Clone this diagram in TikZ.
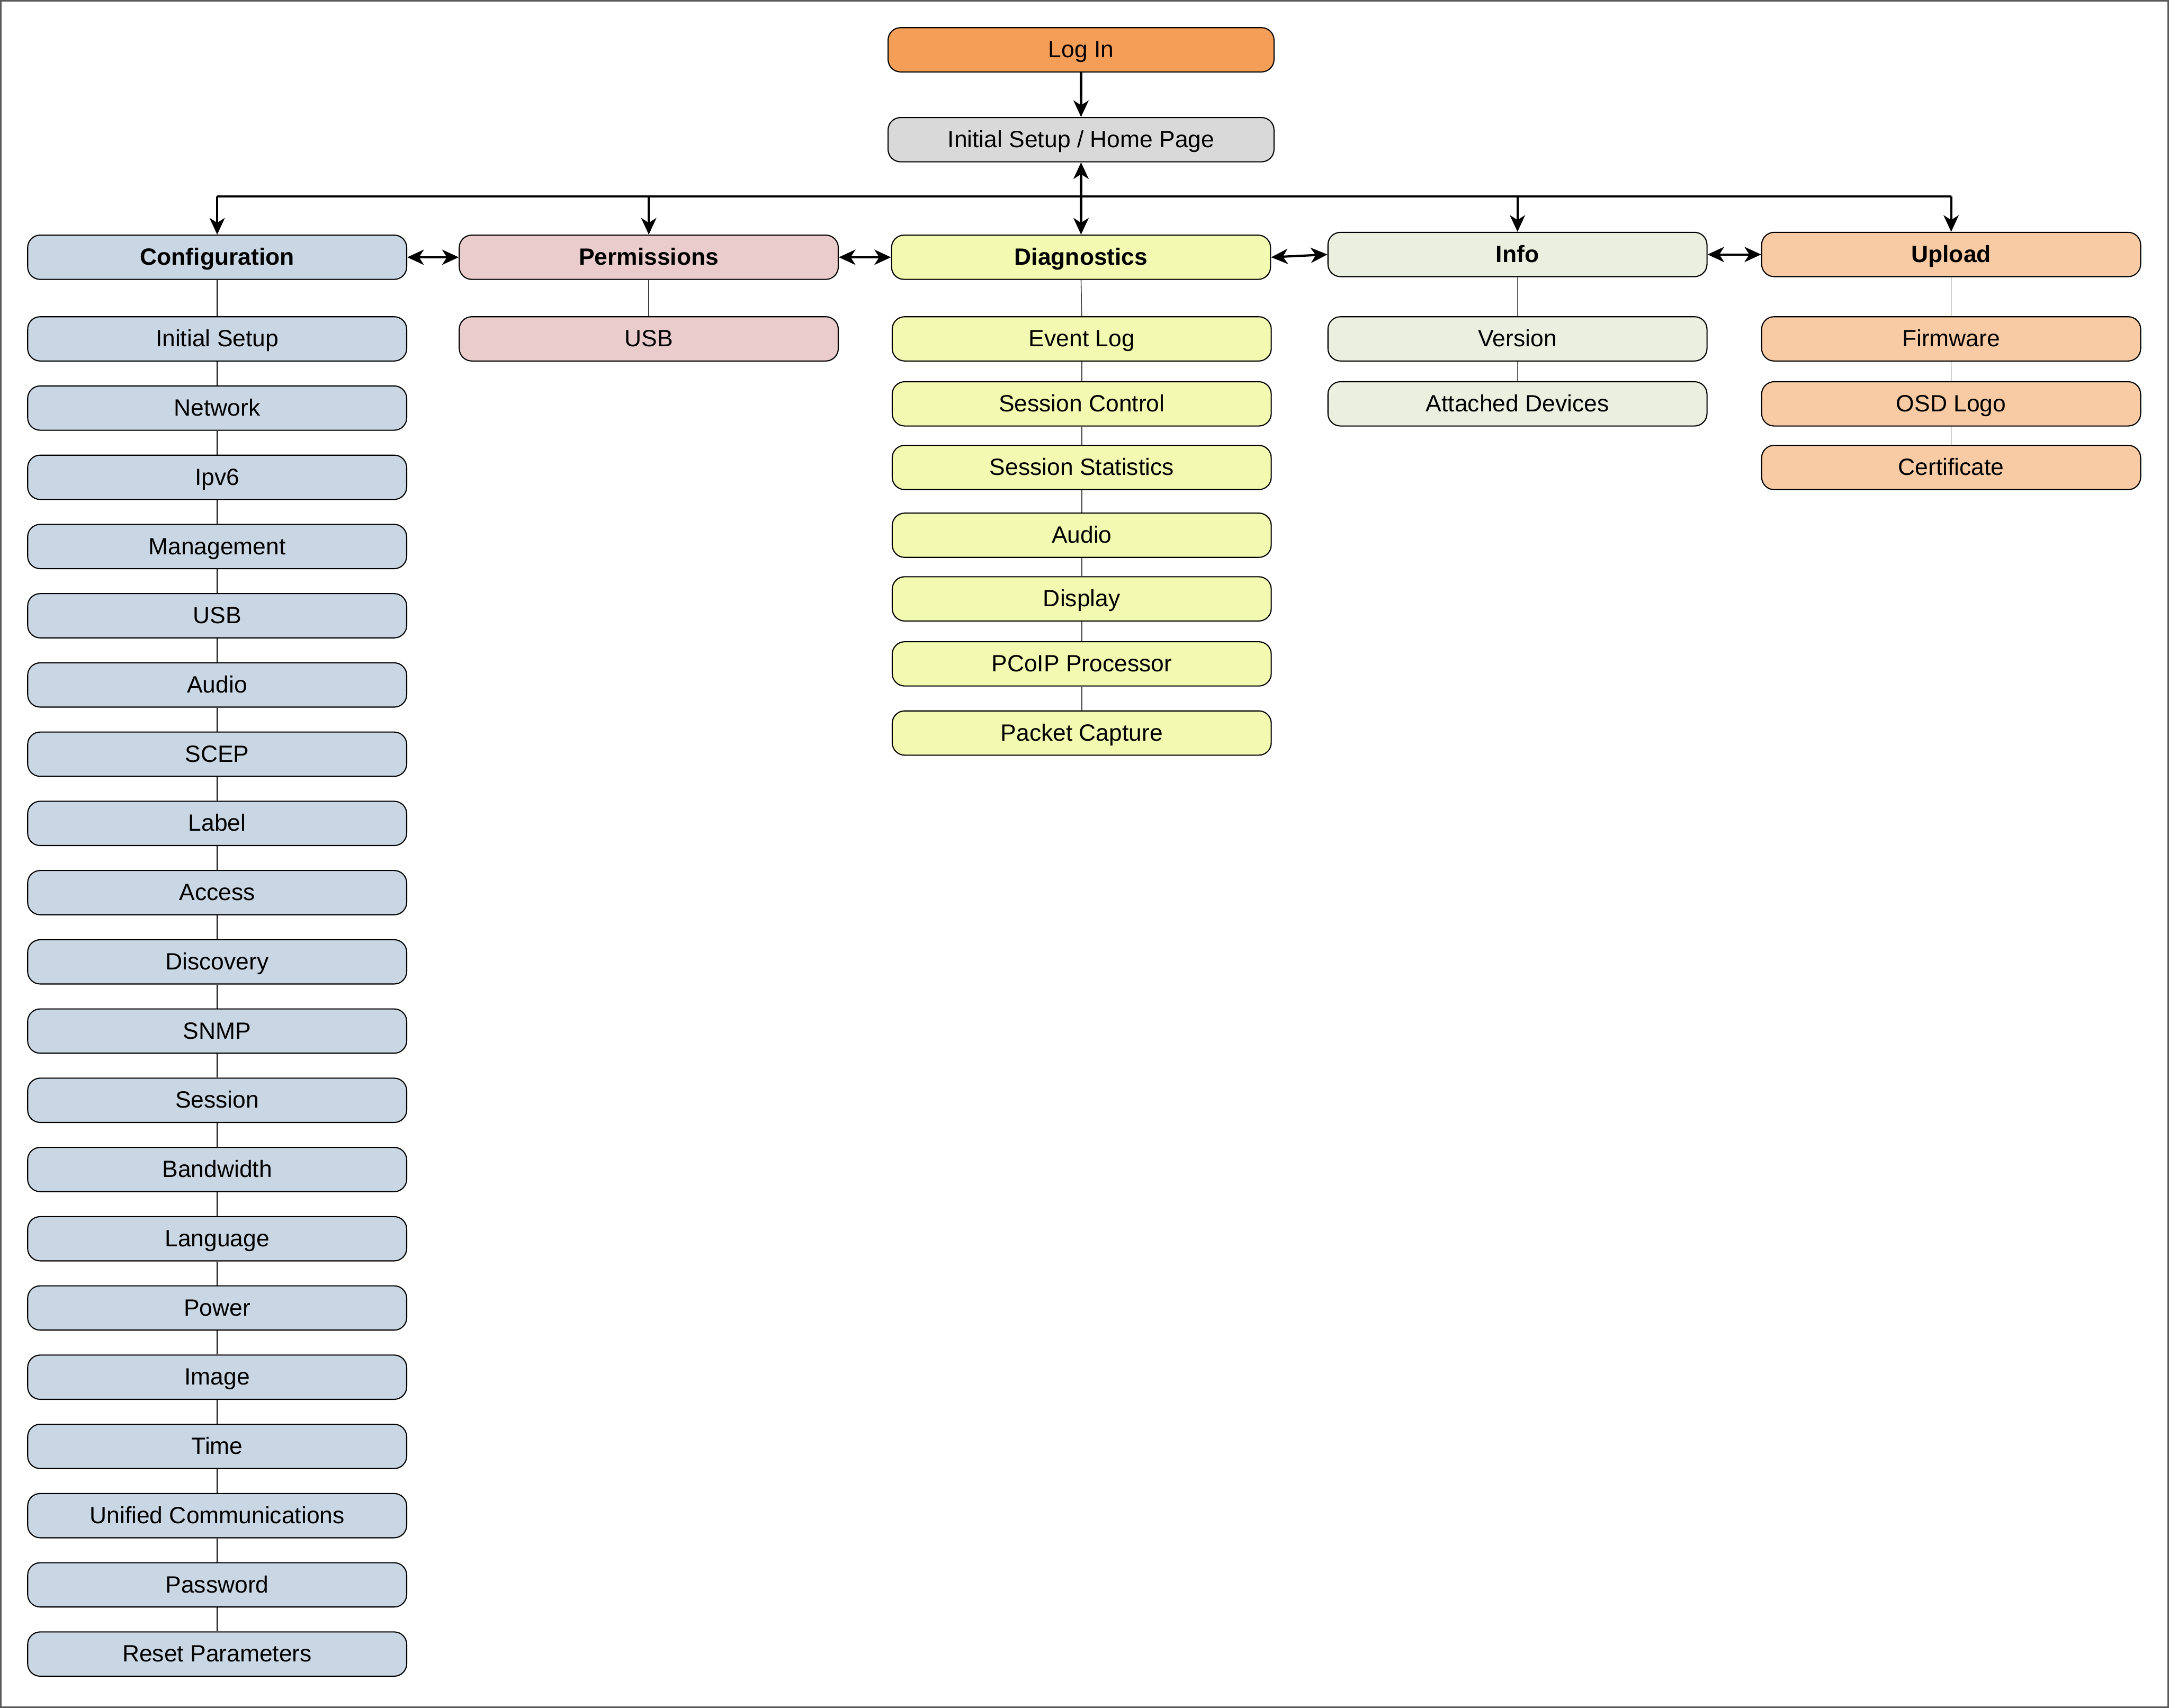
\documentclass[tikz,border=0pt]{standalone}
\usepackage{fontspec}
\setmainfont{Liberation Sans}
\usetikzlibrary{arrows.meta}
\definecolor{cLog}{RGB}{245,158,88}
\definecolor{cHome}{RGB}{217,217,217}
\definecolor{cCfg}{RGB}{201,214,228}
\definecolor{cPerm}{RGB}{235,204,204}
\definecolor{cDiag}{RGB}{242,249,176}
\definecolor{cInfo}{RGB}{235,239,223}
\definecolor{cUp}{RGB}{248,203,165}
\begin{document}
\begin{tikzpicture}[x=1pt,y=-1pt,
  box/.style={draw=black, line width=0.8pt, rounded corners=9pt, minimum width=274pt, minimum height=32pt, inner sep=0pt, text height=13.6pt, text depth=2.3pt, font=\fontsize{17}{20}\selectfont, text=black},
  hdr/.style={box, font=\fontsize{17}{20}\selectfont\bfseries},
  tip/.tip={Stealth[length=12pt,width=11pt,inset=3.5pt]},
  link/.style={line width=1.6pt, -tip},
  dlink/.style={line width=1.6pt, tip-tip},
  cline/.style={line width=0.9pt, black},
  gline/.style={line width=0.6pt, black!75}]

\path[use as bounding box] (0,0) rectangle (1568,1234.86);
\draw[black!65, line width=1pt] (0.5,0.5) rectangle (1567.5,1234.36);

% top
\node[box, fill=cLog, minimum width=279pt] (login) at (781.5,36) {Log In};
\node[box, fill=cHome, minimum width=279pt] (home) at (781.5,101) {Initial Setup / Home Page};
\draw[link] (login.south) -- (home.north);

% headers
\node[hdr, fill=cCfg] (cfg) at (157,186) {Configuration};
\node[hdr, fill=cPerm] (perm) at (469,186) {Permissions};
\node[hdr, fill=cDiag] (diag) at (781.5,186) {Diagnostics};
\node[hdr, fill=cInfo] (info) at (1097,184) {Info};
\node[hdr, fill=cUp] (up) at (1410.5,184) {Upload};

\coordinate (bus) at (781.5,142);
\draw[line width=1.6pt] (cfg.north |- bus) -- (up.north |- bus);
\draw[link] (cfg.north |- bus) -- (cfg.north);
\draw[link] (perm.north |- bus) -- (perm.north);
\draw[link] (info.north |- bus) -- (info.north);
\draw[link] (up.north |- bus) -- (up.north);
\draw[dlink] (home.south) -- (diag.north);

\draw[dlink] (cfg.east) -- (perm.west);
\draw[dlink] (perm.east) -- (diag.west);
\draw[dlink] (diag.east) -- (info.west);
\draw[dlink] (info.east) -- (up.west);

% configuration column
\foreach \t [count=\i] in {Initial Setup, Network, Ipv6, Management, USB, Audio, SCEP, Label, Access, Discovery, SNMP, Session, Bandwidth, Language, Power, Image, Time, Unified Communications, Password, Reset Parameters}
  \node[box, fill=cCfg] (c\i) at (157,194.95+50.05*\i) {\t};
\draw[cline] (cfg.south) -- (c1.north);
\foreach \i in {1,...,19}{\pgfmathtruncatemacro{\j}{\i+1}\draw[cline] (c\i.south) -- (c\j.north);}

% permissions
\node[box, fill=cPerm] (p1) at (469,245) {USB};
\draw[gline] (perm.south) -- (p1.north);

% diagnostics
\foreach \t/\y [count=\i] in {Event Log/245, Session Control/292, Session Statistics/338, Audio/387, Display/433, PCoIP Processor/480, Packet Capture/530}
  \node[box, fill=cDiag] (d\i) at (782,\y) {\t};
\draw[gline] (diag.south) -- (d1.north);
\foreach \i in {1,...,6}{\pgfmathtruncatemacro{\j}{\i+1}\draw[gline] (d\i.south) -- (d\j.north);}

% info
\node[box, fill=cInfo] (i1) at (1097,245) {Version};
\node[box, fill=cInfo] (i2) at (1097,292) {Attached Devices};
\draw[gline] (info.south) -- (i1.north);
\draw[gline] (i1.south) -- (i2.north);

% upload
\node[box, fill=cUp] (u1) at (1410.5,245) {Firmware};
\node[box, fill=cUp] (u2) at (1410.5,292) {OSD Logo};
\node[box, fill=cUp] (u3) at (1410.5,338) {Certificate};
\draw[gline] (up.south) -- (u1.north);
\draw[gline] (u1.south) -- (u2.north);
\draw[gline] (u2.south) -- (u3.north);
\end{tikzpicture}
\end{document}
